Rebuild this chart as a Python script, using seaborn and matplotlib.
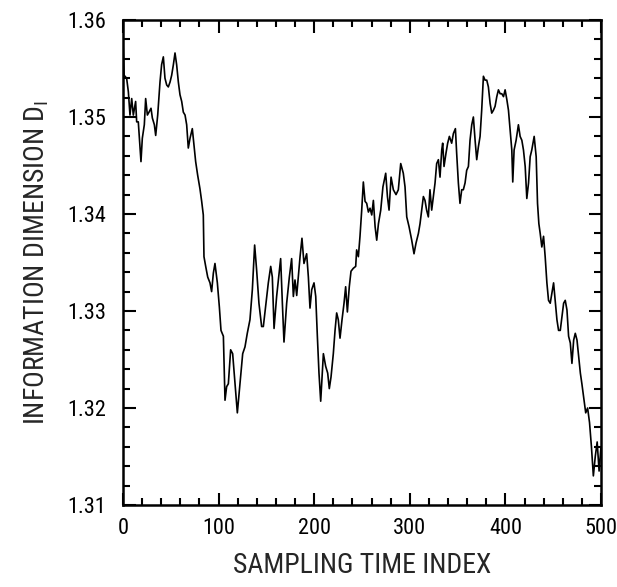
import matplotlib
matplotlib.use("Agg")
import matplotlib.pyplot as plt
from matplotlib import font_manager
from matplotlib.ticker import AutoMinorLocator
import seaborn as sns
import pandas as pd

# ---- data ----
sample_index = [
    0, 1.2, 3.8, 5.6, 7.3, 9.1, 10.8, 13.2, 14.3, 16.0, 17.8, 18.8, 20.2, 22.3, 23.7, 25.5, 27.2, 29.3,
    30.7, 32.8, 34.2, 36.3, 38.7, 40.4, 42.2, 43.9, 45.7, 47.4, 49.2, 50.9, 52.7, 54.4, 56.1, 57.9,
    59.6, 61.4, 63.1, 64.9, 66.6, 68.3, 70.1, 72.5, 74.3, 76.0, 78.1, 80.5, 82.3, 84.0, 84.7, 86.5,
    88.6, 91.0, 92.7, 94.5, 96.2, 98.7, 100.8, 102.5, 105.0, 106.7, 108.4, 110.2, 112.6, 114.7, 117.2,
    119.6, 122.4, 125.2, 127.6, 130.0, 132.8, 135.3, 137.7, 139.8, 142.2, 145.0, 146.8, 149.6, 152.0,
    154.5, 156.2, 158.0, 160.7, 162.5, 164.9, 166.7, 168.4, 171.2, 174.0, 176.4, 178.2, 179.9, 181.7,
    183.4, 185.2, 187.2, 189.3, 192.1, 193.9, 195.6, 197.4, 199.8, 201.6, 203.3, 205.0, 206.8, 209.6,
    212.0, 214.1, 215.8, 217.6, 220.0, 221.8, 223.5, 225.2, 227.0, 229.1, 231.2, 232.9, 234.7, 236.7,
    238.5, 240.9, 243.4, 244.4, 246.2, 247.9, 249.7, 251.4, 253.2, 254.9, 256.7, 258.4, 260.2, 261.9,
    263.7, 265.4, 267.2, 269.6, 271.9, 274.8, 276.6, 278.3, 280.4, 282.8, 285.6, 288.0, 290.5, 293.2,
    295.0, 296.8, 299.2, 302.0, 304.4, 306.5, 309.0, 310.7, 312.4, 314.2, 315.9, 317.6, 319.4, 321.1,
    322.9, 324.6, 326.4, 328.1, 329.9, 331.6, 333.4, 334.4, 335.8, 337.9, 339.6, 341.4, 343.8, 345.6,
    347.7, 349.0, 350.8, 352.5, 354.3, 356.0, 357.8, 359.5, 361.3, 363.0, 364.8, 366.5, 368.3, 370.0,
    371.7, 373.5, 375.2, 377.0, 378.7, 380.5, 382.2, 384.0, 385.7, 387.5, 389.2, 391.0, 392.7, 394.5,
    396.2, 398.0, 399.7, 401.5, 403.2, 404.9, 406.7, 407.7, 409.1, 411.2, 413.6, 415.4, 417.2, 418.9,
    420.7, 422.4, 424.2, 425.9, 427.6, 430.1, 432.2, 433.6, 435.0, 436.4, 438.1, 439.9, 441.6, 443.4,
    445.1, 446.9, 448.6, 450.4, 452.1, 453.9, 455.6, 457.4, 459.1, 460.9, 462.6, 464.4, 466.1, 467.9,
    469.6, 471.4, 473.1, 474.9, 476.6, 478.4, 480.0, 482.0, 484.0, 486.0, 488.0, 490.0, 492.0, 494.0,
    496.0, 498.0, 500.0,
]
info_dimension = [
    1.3578, 1.3543, 1.3540, 1.3526, 1.3502, 1.3519, 1.3502, 1.3516, 1.3495, 1.3495, 1.3468, 1.3454,
    1.3478, 1.3492, 1.3519, 1.3502, 1.3505, 1.3509, 1.3499, 1.3492, 1.3481, 1.3502, 1.3536, 1.3554,
    1.3562, 1.3540, 1.3533, 1.3531, 1.3536, 1.3543, 1.3554, 1.3566, 1.3554, 1.3536, 1.3523, 1.3516,
    1.3505, 1.3502, 1.3492, 1.3468, 1.3478, 1.3488, 1.3471, 1.3454, 1.3440, 1.3426, 1.3413, 1.3399,
    1.3356, 1.3346, 1.3335, 1.3329, 1.3320, 1.3339, 1.3349, 1.3329, 1.3304, 1.3280, 1.3274, 1.3208,
    1.3222, 1.3225, 1.3260, 1.3256, 1.3225, 1.3195, 1.3225, 1.3256, 1.3263, 1.3277, 1.3291, 1.3322,
    1.3368, 1.3342, 1.3308, 1.3284, 1.3284, 1.3308, 1.3329, 1.3346, 1.3335, 1.3282, 1.3315, 1.3332,
    1.3354, 1.3308, 1.3268, 1.3308, 1.3335, 1.3354, 1.3315, 1.3332, 1.3316, 1.3335, 1.3356, 1.3375,
    1.3349, 1.3359, 1.3335, 1.3303, 1.3322, 1.3329, 1.3315, 1.3274, 1.3236, 1.3207, 1.3256, 1.3243,
    1.3236, 1.3220, 1.3232, 1.3256, 1.3280, 1.3298, 1.3291, 1.3272, 1.3291, 1.3308, 1.3325, 1.3299,
    1.3325, 1.3341, 1.3344, 1.3346, 1.3363, 1.3356, 1.3377, 1.3404, 1.3433, 1.3413, 1.3411, 1.3402,
    1.3406, 1.3399, 1.3414, 1.3387, 1.3373, 1.3390, 1.3404, 1.3428, 1.3442, 1.3418, 1.3404, 1.3438,
    1.3425, 1.3420, 1.3425, 1.3452, 1.3442, 1.3428, 1.3397, 1.3387, 1.3373, 1.3359, 1.3370, 1.3380,
    1.3390, 1.3404, 1.3418, 1.3414, 1.3404, 1.3397, 1.3425, 1.3404, 1.3418, 1.3432, 1.3452, 1.3456,
    1.3438, 1.3466, 1.3473, 1.3449, 1.3463, 1.3473, 1.3480, 1.3473, 1.3483, 1.3488, 1.3463, 1.3432,
    1.3411, 1.3425, 1.3425, 1.3432, 1.3445, 1.3449, 1.3476, 1.3492, 1.3500, 1.3476, 1.3456, 1.3469,
    1.3480, 1.3507, 1.3542, 1.3538, 1.3538, 1.3531, 1.3514, 1.3504, 1.3507, 1.3511, 1.3521, 1.3528,
    1.3524, 1.3524, 1.3521, 1.3528, 1.3518, 1.3507, 1.3487, 1.3466, 1.3433, 1.3466, 1.3476, 1.3492,
    1.3480, 1.3476, 1.3466, 1.3449, 1.3416, 1.3432, 1.3459, 1.3466, 1.3480, 1.3459, 1.3411, 1.3390,
    1.3380, 1.3366, 1.3377, 1.3356, 1.3329, 1.3311, 1.3308, 1.3318, 1.3329, 1.3311, 1.3291, 1.3280,
    1.3280, 1.3294, 1.3308, 1.3311, 1.3301, 1.3274, 1.3267, 1.3246, 1.3270, 1.3277, 1.3270, 1.3253,
    1.3236, 1.3225, 1.3210, 1.3195, 1.3200, 1.3185, 1.3160, 1.3130, 1.3150, 1.3165, 1.3135, 1.3160,
]
x_ticks = [0, 100, 200, 300, 400, 500]
y_ticks = [1.31, 1.32, 1.33, 1.34, 1.35, 1.36]
x_label = "SAMPLING TIME INDEX"
y_label = "INFORMATION DIMENSION D$_\\mathregular{I}$"

# ---- style ----
sns.set_style("ticks")
available = {f.name for f in font_manager.fontManager.ttflist}
family = "DejaVu Sans"
for cand in ["Liberation Sans Narrow", "DejaVu Sans Condensed", "Roboto Condensed", "Open Sans Condensed"]:
    if cand in available:
        family = cand
        break
plt.rcParams["font.family"] = [family, "DejaVu Sans"]
plt.rcParams["font.stretch"] = "condensed"
plt.rcParams["mathtext.fontset"] = "custom"
plt.rcParams["mathtext.rm"] = family

fig = plt.figure(figsize=(6.17, 5.87), dpi=100)
ax = fig.add_axes([123 / 617, 82 / 587, 478 / 617, 485 / 587])

df = pd.DataFrame({"t": sample_index, "d": info_dimension})
sns.lineplot(data=df, x="t", y="d", color="black", linewidth=1.2, ax=ax, sort=False)

ax.set_xlim(0, 500)
ax.set_ylim(1.31, 1.36)
ax.set_xticks(x_ticks)
ax.set_yticks(y_ticks)
ax.set_xticklabels([str(v) for v in x_ticks])
ax.set_yticklabels([f"{v:.2f}" for v in y_ticks])
ax.xaxis.set_minor_locator(AutoMinorLocator(5))
ax.yaxis.set_minor_locator(AutoMinorLocator(5))

for s in ax.spines.values():
    s.set_visible(True)
    s.set_linewidth(1.8)
    s.set_color("black")

ax.tick_params(which="both", direction="in", top=True, right=True, colors="black", width=1.5)
ax.tick_params(which="major", length=9)
ax.tick_params(which="minor", length=5)
ax.tick_params(axis="x", which="major", pad=9, labelsize=16)
ax.tick_params(axis="y", which="major", pad=12, labelsize=16)

ax.set_xlabel(x_label, fontsize=20, labelpad=10)
ax.set_ylabel(y_label, fontsize=20, labelpad=12)
ax.grid(False)

fig.savefig("out.png", dpi=100, facecolor="white")
